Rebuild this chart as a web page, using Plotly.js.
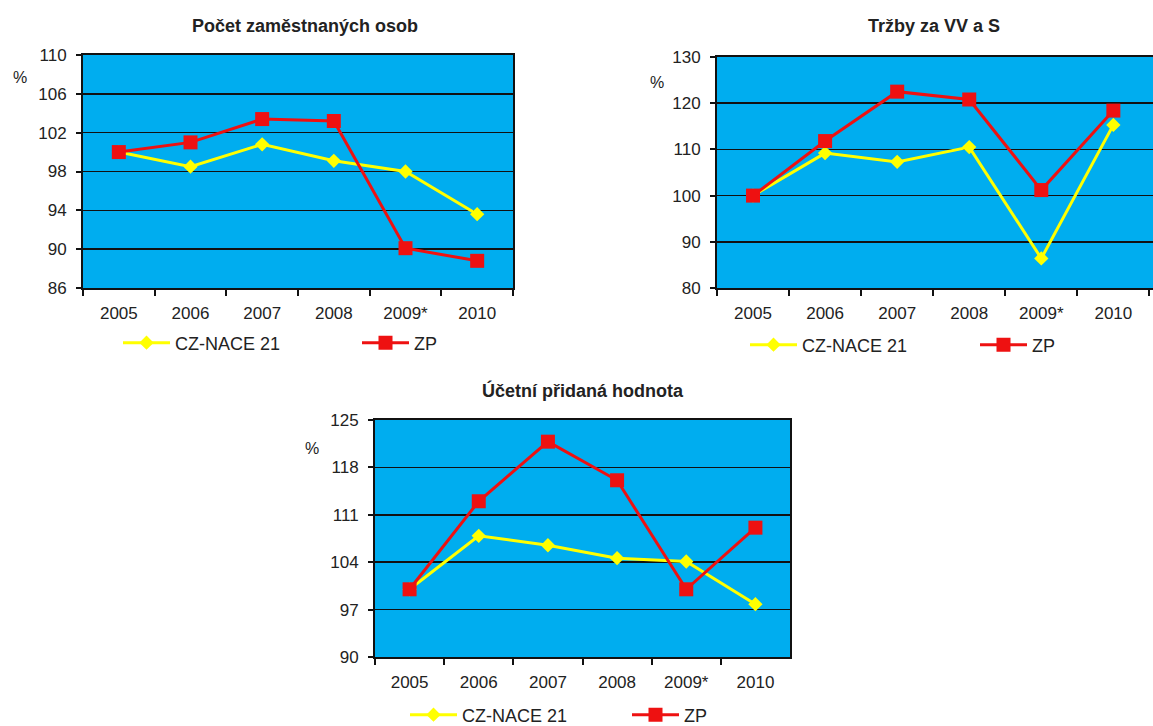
<!DOCTYPE html>
<html>
<head>
<meta charset="utf-8">
<script src="https://cdn.plot.ly/plotly-3.0.1.min.js"></script>
<style>html,body{margin:0;padding:0;background:#fff;}#chart{width:1153px;height:726px;}</style>
</head>
<body>
<div id="chart"></div>
<script>
// ---- data ----
const years = ["2005", "2006", "2007", "2008", "2009*", "2010"];
const seriesNames = ["CZ-NACE 21", "ZP"];
const chartTitles = ["Počet zaměstnaných osob", "Tržby za VV a S", "Účetní přidaná hodnota"];

// Počet zaměstnaných osob
const empNace = [100, 98.5, 100.8, 99.1, 98.0, 93.6];
const empZP   = [100, 101.0, 103.4, 103.2, 90.1, 88.8];
// Tržby za VV a S
const salesNace = [100, 109.2, 107.3, 110.5, 86.4, 115.3];
const salesZP   = [100, 111.8, 122.5, 120.8, 101.2, 118.4];
// Účetní přidaná hodnota
const vaNace = [100, 107.9, 106.5, 104.6, 104.1, 97.8];
const vaZP   = [100, 113.0, 121.8, 116.1, 100.0, 109.1];

// ---- styling ----
const FONT = "Liberation Sans, Arial, sans-serif";
const TXT = "#222";
const BLUE = "#00adef";
const YELLOW = "#ffff00";
const RED = "#ee1111";

const W = 1153, H = 726;
function px(x){ return x / W; }
function py(y){ return 1 - y / H; }

const charts = [
  {nace: empNace, zp: empZP, x: "x", y: "y", legend: "legend",
   dom: {x: [83, 513], y: [55, 288]}, yr: [86, 110], dt: 4, xr: [-0.5, 5.5], mirrorY: true,
   title: [305, 26], pct: [20, 78], leg: [118, 343], entry: 177},
  {nace: salesNace, zp: salesZP, x: "x2", y: "y2", legend: "legend2",
   dom: {x: [717, 1153], y: [57, 288]}, yr: [80, 130], dt: 10, xr: [-0.5, 5.55], mirrorY: false,
   title: [934, 26], pct: [657, 83], leg: [745, 345], entry: 168},
  {nace: vaNace, zp: vaZP, x: "x3", y: "y3", legend: "legend3",
   dom: {x: [375, 790], y: [420, 657]}, yr: [90, 125], dt: 7, xr: [-0.5, 5.5], mirrorY: true,
   title: [583, 390], pct: [312, 448], leg: [405, 715], entry: 160}
];

const data = [];
const layout = {
  width: W, height: H,
  margin: {l: 0, r: 0, t: 0, b: 0, autoexpand: false},
  paper_bgcolor: "#fff",
  plot_bgcolor: BLUE,
  font: {family: FONT, color: TXT, size: 17},
  showlegend: true,
  annotations: [],
  shapes: []
};

charts.forEach((c, i) => {
  const n = i === 0 ? "" : String(i + 1);
  data.push({
    type: "scatter", mode: "lines+markers", name: seriesNames[0],
    x: years, y: c.nace, xaxis: c.x, yaxis: c.y, legend: c.legend,
    line: {color: YELLOW, width: 3},
    marker: {symbol: "diamond", size: 11, color: YELLOW},
    cliponaxis: false
  });
  data.push({
    type: "scatter", mode: "lines+markers", name: seriesNames[1],
    x: years, y: c.zp, xaxis: c.x, yaxis: c.y, legend: c.legend,
    line: {color: RED, width: 3},
    marker: {symbol: "square", size: 14, color: RED},
    cliponaxis: false
  });
  layout["xaxis" + n] = {
    domain: [px(c.dom.x[0]), px(c.dom.x[1])],
    anchor: "y" + n,
    type: "category",
    range: c.xr,
    tickson: "boundaries",
    ticks: "outside", ticklen: 6, tickwidth: 2, tickcolor: "#111",
    showline: true, linecolor: "#111", linewidth: 2, mirror: true,
    showgrid: false, zeroline: false,
    tickfont: {family: FONT, size: 17, color: TXT},
    ticklabelstandoff: 9,
    automargin: false,
    fixedrange: true
  };
  layout["yaxis" + n] = {
    domain: [py(c.dom.y[1]), py(c.dom.y[0])],
    anchor: "x" + n,
    range: c.yr, dtick: c.dt, tick0: c.yr[0],
    ticks: "outside", ticklen: 5, tickwidth: 2, tickcolor: "#111",
    showline: true, linecolor: "#111", linewidth: 2, mirror: c.mirrorY,
    showgrid: true, gridcolor: "#111", gridwidth: 1.6,
    zeroline: false,
    tickfont: {family: FONT, size: 17, color: TXT},
    ticklabelstandoff: 6,
    automargin: false,
    fixedrange: true
  };
  layout[c.legend] = {
    orientation: "h",
    x: px(c.leg[0]), xanchor: "left",
    y: py(c.leg[1]), yanchor: "middle",
    bgcolor: "rgba(0,0,0,0)", borderwidth: 0,
    entrywidth: c.entry, entrywidthmode: "pixels",
    itemwidth: 47,
    font: {family: FONT, size: 18, color: TXT},
    traceorder: "normal"
  };
  layout.annotations.push({
    text: "<b>" + chartTitles[i] + "</b>",
    xref: "paper", yref: "paper",
    x: px(c.title[0]), y: py(c.title[1]),
    xanchor: "center", yanchor: "middle",
    showarrow: false,
    font: {family: FONT, size: 18, color: TXT}
  });
  layout.annotations.push({
    text: "%",
    xref: "paper", yref: "paper",
    x: px(c.pct[0]), y: py(c.pct[1]),
    xanchor: "center", yanchor: "middle",
    showarrow: false,
    font: {family: FONT, size: 16, color: TXT}
  });
});

Plotly.newPlot("chart", data, layout, {displayModeBar: false, staticPlot: true});
</script>
</body>
</html>
